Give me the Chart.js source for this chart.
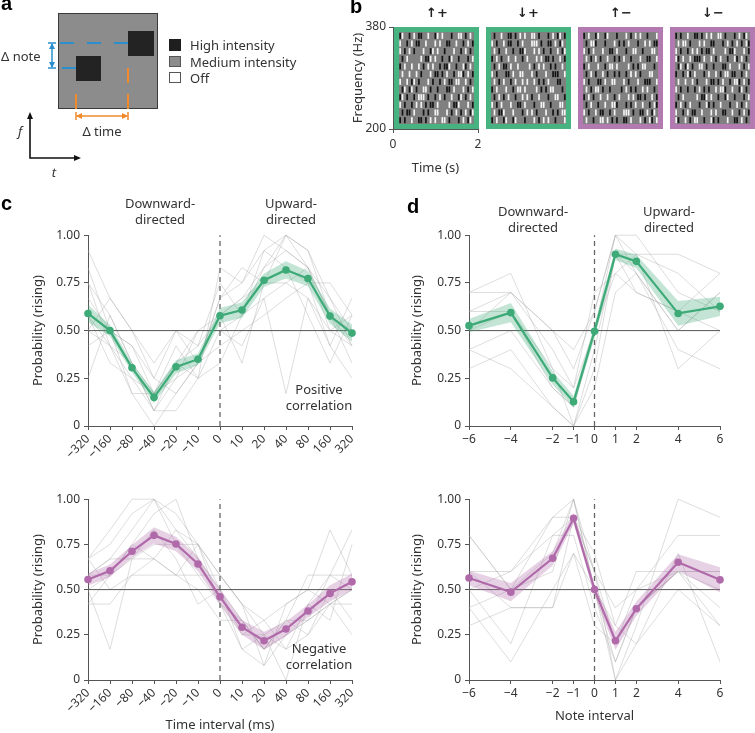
<!DOCTYPE html>
<html>
<head>
<meta charset="utf-8">
<script src="https://cdn.jsdelivr.net/npm/chart.js@4.4.1/dist/chart.umd.min.js"></script>
<style>
body{margin:0;background:#fff;width:755px;height:733px;overflow:hidden;position:relative;font-family:"Noto Sans",sans-serif;color:#333}
canvas{position:absolute}
.t{position:absolute;white-space:nowrap;font-size:13px;line-height:16px}
.c{transform:translateX(-50%);text-align:center}
.L{position:absolute;font-family:"Liberation Sans",Arial,sans-serif;font-weight:bold;font-size:20px;line-height:20px;color:#000}
.ar{position:absolute;font-family:"DejaVu Sans",sans-serif;font-weight:bold;font-size:13px;line-height:14px;transform:translateX(-50%);color:#222}
</style>
</head>
<body>
<canvas id="pa" width="340" height="190" style="left:0;top:0"></canvas>
<canvas id="pb" width="415" height="180" style="left:340px;top:0"></canvas>
<canvas id="c1" width="372" height="236" style="left:0;top:224px"></canvas>
<canvas id="c2" width="372" height="245" style="left:0;top:488px"></canvas>
<canvas id="d1" width="360" height="236" style="left:380px;top:224px"></canvas>
<canvas id="d2" width="360" height="245" style="left:380px;top:488px"></canvas>

<div class="L" style="left:1px;top:-7px">a</div>
<div class="t" style="left:1px;top:48px">Δ note</div>
<div class="t c" style="left:102px;top:123px">Δ time</div>
<div class="t" style="left:190px;top:37px">High intensity</div>
<div class="t" style="left:190px;top:54px">Medium intensity</div>
<div class="t" style="left:190px;top:70px">Off</div>
<div class="t" style="left:18px;top:123px;font-style:italic">f</div>
<div class="t c" style="left:54px;top:164px;font-style:italic">t</div>

<div class="L" style="left:350px;top:-4px">b</div>
<div class="ar" style="left:437px;top:6px">↑+</div>
<div class="ar" style="left:528px;top:6px">↓+</div>
<div class="ar" style="left:621px;top:6px">↑−</div>
<div class="ar" style="left:713px;top:6px">↓−</div>

<div class="L" style="left:1px;top:193px">c</div>
<div class="t c" style="left:160px;top:195px">Downward-<br>directed</div>
<div class="t c" style="left:291px;top:195px">Upward-<br>directed</div>
<div class="t c" style="left:319px;top:381px">Positive<br>correlation</div>
<div class="t c" style="left:319px;top:640px">Negative<br>correlation</div>

<div class="L" style="left:407px;top:196px">d</div>
<div class="t c" style="left:533px;top:203px">Downward-<br>directed</div>
<div class="t c" style="left:669px;top:203px">Upward-<br>directed</div>

<script>
var FONT = "'Noto Sans', sans-serif"
var green = '#3daa78'
var greenFill = 'rgba(61,170,120,0.3)'
var purple = '#b06aaa'
var purpleFill = 'rgba(176,106,170,0.3)'
var subjColor = 'rgba(170,170,170,0.5)'

var yTicks = [0, 0.25, 0.5, 0.75, 1]
var yTickLabels = ['0', '0.25', '0.50', '0.75', '1.00']

// panel c : time interval
var cTimeLabels = ['−320','−160','−80','−40','−20','−10','0','10','20','40','80','160','320']
var cIndex = [0,1,2,3,4,5,6,7,8,9,10,11,12]
var cPosMean = [0.59,0.50,0.305,0.15,0.31,0.35,0.578,0.608,0.764,0.818,0.773,0.576,0.487]
var cPosSem  = [0.045,0.03,0.025,0.03,0.035,0.03,0.04,0.04,0.035,0.045,0.04,0.04,0.045]
var cNegMean = [0.556,0.604,0.712,0.80,0.752,0.642,0.46,0.292,0.217,0.282,0.382,0.479,0.543]
var cNegSem  = [0.035,0.035,0.035,0.045,0.04,0.04,0.04,0.04,0.05,0.04,0.035,0.045,0.045]

var cPosSubjects = [
  [0.92,0.67,0.50,0.33,0.50,0.42,0.75,0.58,0.83,1.00,0.92,0.67,0.50],
  [0.75,0.58,0.33,0.17,0.25,0.33,0.58,0.67,0.83,0.92,0.83,0.58,0.42],
  [0.50,0.42,0.25,0.08,0.33,0.25,0.50,0.42,0.67,0.75,0.67,0.50,0.58],
  [0.67,0.50,0.42,0.25,0.50,0.33,0.67,0.75,0.92,1.00,0.83,0.67,0.42],
  [0.42,0.50,0.17,0.00,0.17,0.33,0.42,0.50,0.58,0.67,0.75,0.42,0.25],
  [0.58,0.33,0.25,0.17,0.33,0.42,0.58,0.33,0.75,0.83,0.75,0.75,0.58],
  [0.25,0.58,0.33,0.08,0.25,0.50,0.50,0.58,0.67,0.17,0.67,0.42,0.67],
  [0.83,0.50,0.42,0.17,0.42,0.25,0.83,0.75,1.00,0.92,0.83,0.58,0.33],
  [0.58,0.42,0.17,0.17,0.33,0.50,0.58,0.67,0.75,1.00,0.92,0.58,0.50],
  [0.50,0.67,0.50,0.25,0.17,0.33,0.67,0.83,0.75,0.75,0.83,0.50,0.42],
  [0.75,0.42,0.33,0.08,0.08,0.25,0.33,0.58,0.92,0.83,0.58,0.33,0.58]
]
var cNegSubjects = [
  [0.67,0.75,0.92,1.00,0.92,0.75,0.50,0.33,0.17,0.25,0.33,0.42,0.50],
  [0.50,0.58,0.67,0.75,0.75,0.58,0.42,0.25,0.25,0.17,0.42,0.58,0.58],
  [0.42,0.42,0.58,0.67,0.83,0.75,0.58,0.42,0.33,0.42,0.50,0.42,0.50],
  [0.58,0.67,0.83,1.00,0.83,0.67,0.42,0.17,0.08,0.25,0.33,0.58,0.83],
  [0.67,0.50,0.58,0.58,0.58,0.50,0.33,0.33,0.17,0.33,0.25,0.50,0.33],
  [0.42,0.58,0.75,0.92,1.00,0.67,0.50,0.17,0.25,0.00,0.42,0.33,0.75],
  [0.50,0.17,0.67,0.67,0.58,0.58,0.58,0.42,0.08,0.42,0.50,0.83,0.58],
  [0.58,0.67,0.67,0.83,0.67,0.42,0.50,0.25,0.33,0.17,0.25,0.42,0.42],
  [0.67,0.83,1.00,1.00,0.75,0.75,0.42,0.33,0.17,0.33,0.58,0.58,0.50],
  [0.58,0.58,0.75,0.67,0.58,0.75,0.58,0.42,0.25,0.33,0.33,0.42,0.25]
]

// panel d : note interval
var dNoteValues = [-6,-4,-2,-1,0,1,2,4,6]
var dNoteLabels = ['−6','−4','−2','−1','0','1','2','4','6']
var dPosMean = [0.526,0.594,0.252,0.127,0.496,0.90,0.863,0.59,0.627]
var dPosSem  = [0.035,0.05,0.035,0.03,0.035,0.03,0.035,0.065,0.05]
var dNegMean = [0.564,0.486,0.673,0.894,0.50,0.217,0.394,0.651,0.554]
var dNegSem  = [0.04,0.05,0.04,0.03,0.03,0.05,0.04,0.045,0.07]

var dPosSubjects = [
  [0.7,0.8,0.3,0.2,0.5,1.0,0.9,0.9,0.8],
  [0.6,0.7,0.5,0.4,0.6,1.0,1.0,0.7,0.6],
  [0.3,0.4,0.1,0.0,0.4,0.9,0.8,0.5,0.7],
  [0.4,0.5,0.2,0.1,0.5,0.8,0.9,0.3,0.5],
  [0.5,0.6,0.3,0.0,0.3,0.9,0.7,0.6,0.8],
  [0.7,0.7,0.5,0.3,0.6,1.0,0.8,0.4,0.3],
  [0.6,0.6,0.2,0.1,0.5,0.9,0.9,0.8,0.6],
  [0.4,0.3,0.1,0.0,0.2,0.7,0.8,0.5,0.7],
  [0.5,0.7,0.4,0.2,0.7,0.8,0.7,0.6,0.5]
]
var dNegSubjects = [
  [0.6,0.6,0.9,1.0,0.5,0.1,0.4,0.6,0.6],
  [0.8,0.5,0.6,1.0,0.6,0.2,0.5,0.8,0.8],
  [0.5,0.2,0.8,0.9,0.6,0.0,0.3,1.0,0.9],
  [0.4,0.1,0.5,0.7,0.3,0.2,0.4,0.6,0.4],
  [0.6,0.4,0.4,0.9,0.6,0.4,0.5,0.6,0.3],
  [0.8,0.5,0.7,1.0,0.5,0.0,0.2,0.7,0.1],
  [0.4,0.5,0.9,0.9,0.7,0.3,0.6,0.6,0.5],
  [0.5,0.6,0.8,0.8,0.4,0.1,0.4,0.6,0.6],
  [0.3,0.4,0.4,0.7,0.5,0.3,0.2,0.5,0.3]
]

// panel b : stimulus examples (k black, w white, . grey)
var bTimeTicks = [0, 2]
var bFreqTicks = [200, 380]
var boxOffsets = [0, 2.17, 4.33, 6.5]
var boxColors = ['#47b381', '#47b381', '#b27ab0', '#b27ab0']
var patUpPos = [
"kw..k.w.kk..w..kw.w...k..ww.k.w.",
"w..k.w.kk..w...w.w..kk..w..k.w.k",
"w.k.w.k...w..kw.w..k...w..k.w.k.",
".k.w.....w.kkw.w..k..kw..k...k.w",
"k.w..w..w.k.w.w..k.kkw..k..wk.w.",
".w..w..w.k...w.kk.k.w..k.wwk.w.k",
"w..w.kw.k...w.k..k.w.kk.ww..w.k.",
".kw.kw.k..ww.k..k...kk.w...w.k.w",
"kw.k..k.www.k..k.w.k..w..kw.k.w.",
"w.k..k.w.w.k.kk.w....w.kkw...w.k",
".k.kk.w...k.k..ww...w.k.w.k.w.kw",
"k.k..w..kk.k.w.w..ww.k...k.w.kw."
]
var patDownPos = [
".k..w..kk.k.w.w..ww.k...k.w.kw.k",
"w.k..w.kk..k.w...www.k..kk.w.kw.",
".w.k..w..k..kkw...w.w.k..k..w.kw",
"k.w.k..w..w..k.w...w.w.kk.k..w.k",
".k.w.kk.w..w....w.k.w.w..k.k..w.",
"w.k...kk.w..ww...w.k...w..kkk..w",
".w.k.w..k.w..w.w..w.k.k.w...kk..",
"k.w...w..k.ww.w....w.k.k.ww...k.",
".k.w.k.w..k..w.w.k..w...k..ww..k",
"w.k.w...w..kk.w...k..ww..k...ww.",
".w.kkw...w...k.w.w.k...w..k.k.ww",
"k.w..kw..kw...k...w.k.w.w..k...w"
]
var patUpNeg = [
"k.w..kw..kw...k...w.k.w.w..k...w",
".k.wwk...k...w.k.k.w...k..w.w.kk",
"w.k.w...w..kk.w...k..ww..k...ww.",
".w.k.w.k..w..k.k.w..k...w..kk..w",
"k.w...w..k.ww.w....w.k.k.ww...k.",
".k.w.k..w.k..k.k..k.w.w.k...ww..",
"w.k...kk.w..ww...w.k...w..kkk..w",
".w.k.ww.k..k....k.w.k.k..w.w..k.",
"k.w.k..w..w..k.w...w.w.kk.k..w.k",
".k.w..k..w..wwk...k.k.w..w..k.wk",
"w.k..w.kk..k.w...www.k..kk.w.kw.",
".w..k..ww.w.k.k..kk.w...w.k.wk.w"
]
var patDownNeg = [
"k.k..w..kk.k.w.w..ww.k...k.w.kw.",
".w.ww.k...w.w..kk...k.w.k.w.k.wk",
"w.k..k.w.w.k.kk.w....w.kkw...w.k",
"wk.w..w.kkk.w..w.k.w..k..wk.w.k.",
".kw.kw.k..ww.k..k...kk.w...w.k.w",
"k..k.wk.w...k.w..w.k.ww.kk..k.w.",
".w..w..w.k...w.kk.k.w..k.wwk.w.k",
"w.k..k..k.w.k.k..w.wwk..w..kw.k.",
".k.w.....w.kkw.w..k..kw..k...k.w",
"k.w.k.w...k..wk.k..w...k..w.k.w.",
"w..k.w.kk..w...w.w..kk..w..k.w.k",
"wk..w.k.ww..k..wk.k...w..kk.w.k."
]
var patterns = [patUpPos, patDownPos, patUpNeg, patDownNeg]

Chart.defaults.font.family = FONT
Chart.defaults.color = '#333'

function tickFont() { return {family: FONT, size: 12} }

// ---------- panel a (schematic) ----------
function drawSchematic() {
  var ctx = document.getElementById('pa').getContext('2d')
  ctx.fillStyle = '#8c8c8c'
  ctx.fillRect(58, 13, 100, 96)
  ctx.strokeStyle = '#3a3a3a'; ctx.lineWidth = 1
  ctx.strokeRect(58.5, 13.5, 99, 95)
  ctx.fillStyle = '#232323'
  ctx.fillRect(76, 56, 25, 25)
  ctx.fillRect(128, 31, 26, 25)

  var blue = '#2a8fcc', orange = '#f08a2a'
  ctx.lineWidth = 2
  ctx.strokeStyle = blue
  ctx.setLineDash([14, 13])
  ctx.beginPath(); ctx.moveTo(60, 43); ctx.lineTo(128, 43); ctx.stroke()
  ctx.setLineDash([])
  ctx.beginPath(); ctx.moveTo(62, 68); ctx.lineTo(76, 68); ctx.stroke()
  // delta note arrow
  ctx.lineWidth = 1.5
  ctx.beginPath(); ctx.moveTo(52, 44); ctx.lineTo(52, 67); ctx.stroke()
  ctx.beginPath(); ctx.moveTo(48, 43); ctx.lineTo(56, 43); ctx.moveTo(48, 68); ctx.lineTo(56, 68); ctx.stroke()
  ctx.fillStyle = blue
  ctx.beginPath(); ctx.moveTo(52, 43); ctx.lineTo(49, 49); ctx.lineTo(55, 49); ctx.fill()
  ctx.beginPath(); ctx.moveTo(52, 68); ctx.lineTo(49, 62); ctx.lineTo(55, 62); ctx.fill()

  ctx.strokeStyle = orange; ctx.lineWidth = 2
  ctx.setLineDash([15, 11])
  ctx.beginPath(); ctx.moveTo(128, 68); ctx.lineTo(128, 109); ctx.stroke()
  ctx.setLineDash([])
  ctx.beginPath(); ctx.moveTo(76, 94); ctx.lineTo(76, 109); ctx.stroke()
  ctx.lineWidth = 1.5
  ctx.beginPath(); ctx.moveTo(77, 116); ctx.lineTo(127, 116); ctx.stroke()
  ctx.beginPath(); ctx.moveTo(76, 112); ctx.lineTo(76, 120); ctx.moveTo(128, 112); ctx.lineTo(128, 120); ctx.stroke()
  ctx.fillStyle = orange
  ctx.beginPath(); ctx.moveTo(76, 116); ctx.lineTo(82, 113); ctx.lineTo(82, 119); ctx.fill()
  ctx.beginPath(); ctx.moveTo(128, 116); ctx.lineTo(122, 113); ctx.lineTo(122, 119); ctx.fill()

  // legend squares
  ctx.lineWidth = 1
  ctx.fillStyle = '#1e1e1e'; ctx.fillRect(169, 39, 12, 12)
  ctx.fillStyle = '#8c8c8c'; ctx.fillRect(169, 56, 12, 11)
  ctx.strokeStyle = '#555'; ctx.strokeRect(169.5, 56.5, 11, 10)
  ctx.fillStyle = '#fff'; ctx.fillRect(169, 72, 12, 11)
  ctx.strokeRect(169.5, 72.5, 11, 10)

  // f / t axes
  ctx.strokeStyle = '#111'; ctx.fillStyle = '#111'; ctx.lineWidth = 1.6
  ctx.beginPath(); ctx.moveTo(30, 118); ctx.lineTo(30, 158); ctx.lineTo(74, 158); ctx.stroke()
  ctx.beginPath(); ctx.moveTo(30, 112); ctx.lineTo(27, 119); ctx.lineTo(33, 119); ctx.fill()
  ctx.beginPath(); ctx.moveTo(81, 158); ctx.lineTo(74, 155); ctx.lineTo(74, 161); ctx.fill()
}
drawSchematic()

// ---------- panel b ----------
var boxPlugin = {
  id: 'boxes',
  afterDatasetsDraw(chart) {
    var ctx = chart.ctx, xs = chart.scales.x, ys = chart.scales.y
    boxOffsets.forEach((off, i) => {
      var x0 = Math.round(xs.getPixelForValue(off)) + 1
      var x1 = Math.round(xs.getPixelForValue(off + 2)) + 1
      var y0 = Math.round(ys.getPixelForValue(bFreqTicks[1]))
      var y1 = Math.round(ys.getPixelForValue(bFreqTicks[0]))
      ctx.fillStyle = boxColors[i]
      ctx.fillRect(x0, y0, x1 - x0, y1 - y0)
      var b = 5, ix = x0 + b, iy = y0 + b, iw = x1 - x0 - 2 * b, ih = y1 - y0 - 2 * b
      ctx.fillStyle = '#808080'
      ctx.fillRect(ix, iy, iw, ih)
      var rows = patterns[i], cw = iw / rows[0].length, rh = ih / rows.length
      rows.forEach((r, ri) => {
        for (var ci = 0; ci < r.length; ci++) {
          var ch = r[ci]
          if (ch == '.') continue
          ctx.fillStyle = ch == 'k' ? '#141414' : '#f4f4f4'
          ctx.fillRect(ix + ci * cw + 0.3, iy + ri * rh + 0.8, cw * 0.72, rh - 1.6)
        }
      })
    })
  }
}

new Chart(document.getElementById('pb'), {
  type: 'scatter',
  data: {datasets: []},
  plugins: [boxPlugin],
  options: {
    responsive: false, animation: false, devicePixelRatio: 1,
    layout: {padding: {left: 0, top: 27, right: 277, bottom: 0}},
    plugins: {legend: {display: false}, tooltip: {enabled: false}},
    scales: {
      x: {
        type: 'linear', min: bTimeTicks[0], max: bTimeTicks[1],
        afterBuildTicks: s => { s.ticks = bTimeTicks.map(v => ({value: v})) },
        afterFit: s => { s.height = 51 },
        grid: {display: true, drawOnChartArea: false, tickLength: 4, color: '#555'},
        border: {color: '#555'},
        ticks: {font: tickFont(), color: '#333', padding: 4, maxRotation: 0},
        title: {display: true, text: 'Time (s)', font: {family: FONT, size: 13}, color: '#333', padding: {top: 0, bottom: 4}}
      },
      y: {
        min: bFreqTicks[0], max: bFreqTicks[1],
        afterBuildTicks: s => { s.ticks = bFreqTicks.map(v => ({value: v})) },
        afterFit: s => { s.width = 53 },
        grid: {display: true, drawOnChartArea: false, tickLength: 4, color: '#555'},
        border: {color: '#555'},
        ticks: {font: tickFont(), color: '#333', padding: 3},
        title: {display: true, text: 'Frequency (Hz)', font: {family: FONT, size: 13}, color: '#333', padding: {top: 10, bottom: 0}}
      }
    }
  }
})

// ---------- panels c / d ----------
function lineChart(id, xs, tickText, mean, sem, subjects, color, fillColor, xZero, cfg) {
  var pts = a => a.map((v, i) => ({x: xs[i], y: v}))
  var ds = []
  ds.push({data: pts(mean), borderColor: color, borderWidth: 2.2, pointRadius: 3.8, pointBackgroundColor: color, pointBorderWidth: 0, clip: false})
  ds.push({data: pts(mean.map((m, i) => m + sem[i])), borderWidth: 0, pointRadius: 0, fill: false, clip: false})
  ds.push({data: pts(mean.map((m, i) => m - sem[i])), borderWidth: 0, pointRadius: 0, fill: '-1', backgroundColor: fillColor, clip: false})
  ds.push({data: [{x: xs[0], y: 0.5}, {x: xs[xs.length - 1], y: 0.5}], borderColor: '#555', borderWidth: 1, pointRadius: 0})
  ds.push({data: [{x: xZero, y: 0}, {x: xZero, y: 1}], borderColor: '#666', borderWidth: 1.3, borderDash: [5, 4], pointRadius: 0, clip: false})
  subjects.forEach(s => ds.push({data: pts(s), borderColor: subjColor, borderWidth: 0.8, pointRadius: 0, clip: false}))

  new Chart(document.getElementById(id), {
    type: 'line',
    data: {datasets: ds},
    options: {
      responsive: false, animation: false, devicePixelRatio: 1,
      layout: {padding: {left: 0, top: 10, right: 20, bottom: 0}},
      elements: {line: {tension: 0}},
      plugins: {legend: {display: false}, tooltip: {enabled: false}},
      scales: {
        x: {
          type: 'linear', min: xs[0], max: xs[xs.length - 1],
          afterBuildTicks: s => { s.ticks = xs.map(v => ({value: v})) },
          afterFit: s => { s.height = cfg.xh },
          grid: {display: true, drawOnChartArea: false, tickLength: 4, color: '#555'},
          border: {color: '#555'},
          ticks: {callback: (v, i) => tickText[i], font: tickFont(), color: '#333', padding: 2,
                  minRotation: cfg.rot, maxRotation: cfg.rot, autoSkip: false},
          title: {display: !!cfg.xTitle, text: cfg.xTitle || '', font: {family: FONT, size: 13}, color: '#333',
                  padding: {top: 0, bottom: cfg.xtb || 0}}
        },
        y: {
          min: 0, max: 1,
          afterBuildTicks: s => { s.ticks = yTicks.map(v => ({value: v})) },
          afterFit: s => { s.width = cfg.yw },
          grid: {display: true, drawOnChartArea: false, tickLength: 4, color: '#555'},
          border: {color: '#555'},
          ticks: {callback: (v, i) => yTickLabels[i], font: tickFont(), color: '#333', padding: 4},
          title: {display: true, text: 'Probability (rising)', font: {family: FONT, size: 13}, color: '#333',
                  padding: {top: cfg.ytp, bottom: 0}}
        }
      }
    }
  })
}

var cZero = cIndex[cTimeLabels.indexOf('0')]
lineChart('c1', cIndex, cTimeLabels, cPosMean, cPosSem, cPosSubjects, green, greenFill, cZero, {xh: 34, rot: 45, yw: 88, ytp: 30})
lineChart('c2', cIndex, cTimeLabels, cNegMean, cNegSem, cNegSubjects, purple, purpleFill, cZero, {xh: 53, rot: 45, yw: 88, ytp: 30, xTitle: 'Time interval (ms)', xtb: 0})
lineChart('d1', dNoteValues, dNoteLabels, dPosMean, dPosSem, dPosSubjects, green, greenFill, 0, {xh: 34, rot: 0, yw: 89, ytp: 29})
lineChart('d2', dNoteValues, dNoteLabels, dNegMean, dNegSem, dNegSubjects, purple, purpleFill, 0, {xh: 53, rot: 0, yw: 89, ytp: 29, xTitle: 'Note interval', xtb: 9})
</script>
</body>
</html>
